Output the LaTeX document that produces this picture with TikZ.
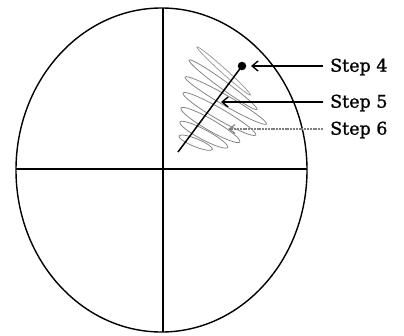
\documentclass[tikz,border=0pt]{standalone}
\usepackage{fontspec}
\setmainfont{DejaVu Serif}
\newfontfamily\stepfont{DejaVu Serif}[FakeBold=1.2]
\usetikzlibrary{arrows.meta}
\begin{document}
\begin{tikzpicture}[x=1pt,y=-1pt,
  outline/.style={line width=1.4pt,black},
  hatch/.style={line width=0.75pt,black!50},
  pointer/.style={line width=1.4pt,-{Straight Barb[length=6pt,width=10pt,line width=1.4pt]}},
  faintpointer/.style={line width=1.2pt,black!50,dash pattern=on 2pt off 0.8pt,-{Straight Barb[length=6pt,width=9pt,line width=1.1pt,sep]}},
  steplabel/.style={anchor=west,inner sep=0pt,font=\stepfont\fontsize{17.5}{20}\selectfont}]
\useasboundingbox (0,0) rectangle (404,335);
% outer ellipse and axes
\node[draw=none,inner sep=0pt,minimum size=0pt] (c) at (161.5,170) {};
\draw[outline] (c) ellipse (145.5 and 162);
\coordinate (vt) at (163,8);
\coordinate (vb) at (163,332);
\coordinate (hl) at (16,169);
\coordinate (hr) at (307,169);
\draw[outline] (vt) -- (vb);
\draw[outline] (hl) -- (hr);
% hatching loops
\draw[hatch,black!40,rotate around={-42:(223.7,71)}] (223.7,71) ellipse (36 and 2.5);
\draw[hatch,rotate around={-36:(223,84.7)}] (223,84.7) ellipse (42 and 4);
\draw[hatch,rotate around={-30:(225.7,100.5)}] (225.7,100.5) ellipse (47 and 5);
\draw[hatch,rotate around={-30:(219.4,114)}] (219.4,114) ellipse (42 and 5.5);
\draw[hatch,rotate around={-30:(210.4,125)}] (210.4,125) ellipse (34 and 5.5);
\draw[hatch,rotate around={-28:(203.8,134.7)}] (203.8,134.7) ellipse (27 and 5);
\draw[hatch,rotate around={-22:(195.7,142.7)}] (195.7,142.7) ellipse (18 and 4);
% the line and its end point
\node[circle,fill=black,inner sep=0pt,minimum size=8.5pt] (dot) at (242,66) {};
\coordinate (lineend) at (178,152);
\draw[line width=1.5pt] (dot.center) -- (lineend);
% labels and pointers
\node[steplabel] (s4) at (330,67) {Step 4};
\node[steplabel] (s5) at (330,103) {Step 5};
\node[steplabel] (s6) at (330,130) {Step 6};
\coordinate (t4) at (251,66);
\coordinate (t5) at (221,102);
\coordinate (t6) at (227,129);
\draw[pointer] (s4.west |- t4) ++(-7,0) -- (t4);
\draw[pointer] (s5.west |- t5) ++(-7,0) -- (t5);
\draw[faintpointer] (s6.west |- t6) ++(-7,0) -- (t6);
\end{tikzpicture}
\end{document}
